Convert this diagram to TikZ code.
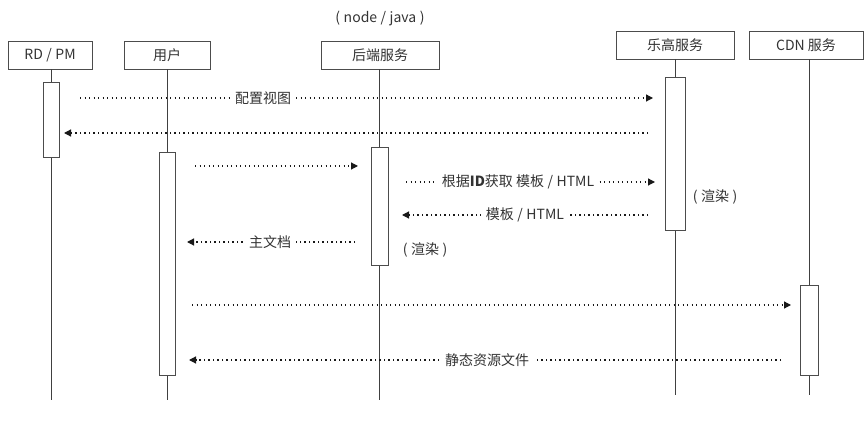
\documentclass[tikz,border=0pt]{standalone}
\usepackage{fontspec}
\setmainfont{Noto Sans CJK SC}
\usetikzlibrary{arrows.meta}
\newcommand{\gap}{\hspace{0.25em}}
\begin{document}
\begin{tikzpicture}[x=1pt,y=-1pt,
  actor/.style={draw=black!70, line width=0.8pt, minimum height=28pt, inner sep=0pt,
    font=\fontsize{14}{16}\selectfont, text=black!80},
  life/.style={draw=black!75, line width=0.7pt},
  actbox/.style={draw=black!70, fill=white, line width=0.8pt, inner sep=0pt},
  msg/.style={black!90, line width=1.2pt, dash pattern=on 1.2pt off 3.3pt,
    -{Triangle[length=7pt,width=7pt]}},
  lbl/.style={fill=white, inner sep=5pt, font=\fontsize{14}{16}\selectfont, text=black!80},
  note/.style={inner sep=0pt, font=\fontsize{14}{16}\selectfont, text=black!80}
]
\useasboundingbox (0,0) rectangle (864,430);

% participants
\node[actor, minimum width=84pt]  (rd)   at (50,55)  {RD\gap/\gap PM};
\node[actor, minimum width=86pt]  (user) at (167,55) {用户};
\node[actor, minimum width=118pt] (back) at (380,55) {后端服务};
\node[actor, minimum width=118pt] (lego) at (675,45) {乐高服务};
\node[actor, minimum width=114pt] (cdn)  at (806,45) {CDN 服务};
\node[note] (backnote) at (380,18) {(\gap node\gap/\gap java\gap)};

% lifelines
\coordinate (rdend)   at (51,400);
\coordinate (userend) at (167,400);
\coordinate (backend) at (379,400);
\coordinate (legoend) at (675,395);
\coordinate (cdnend)  at (809,395);
\draw[life] (rd.south -| rdend) -- (rdend);
\draw[life] (user.south -| userend) -- (userend);
\draw[life] (back.south -| backend) -- (backend);
\draw[life] (lego.south -| legoend) -- (legoend);
\draw[life] (cdn.south -| cdnend) -- (cdnend);

% activation bars
\node[actbox, minimum width=16pt, minimum height=75pt]  (ard)   at (51,119.5)  {};
\node[actbox, minimum width=16pt, minimum height=223pt] (auser) at (167,263.5) {};
\node[actbox, minimum width=17pt, minimum height=118pt] (aback) at (379.5,206) {};
\node[actbox, minimum width=20pt, minimum height=153pt] (alego) at (675.5,153.5) {};
\node[actbox, minimum width=18pt, minimum height=90pt]  (acdn)  at (809,330)   {};

% message end points
\coordinate (m1a) at (80,98);   \coordinate (m1b) at (653,98);
\coordinate (m2a) at (648,133); \coordinate (m2b) at (64,133);
\coordinate (m3a) at (195,166); \coordinate (m3b) at (358,166);
\coordinate (m4a) at (406,182); \coordinate (m4b) at (655,182);
\coordinate (m5a) at (648,215); \coordinate (m5b) at (402,215);
\coordinate (m6a) at (355,242); \coordinate (m6b) at (187,242);
\coordinate (m7a) at (192,305); \coordinate (m7b) at (791,305);
\coordinate (m8a) at (781,360); \coordinate (m8b) at (189,360);

% messages
\draw[msg] (m1a) -- (m1b);
\node[lbl] (l1) at (263,98) {配置视图};
\draw[msg] (m2a) -- (m2b);
\draw[msg] (m3a) -- (m3b);
\draw[msg] (m4a) -- (m4b);
\node[lbl] (l4) at (518,182) {根据\textbf{ID}获取 模板\gap/\gap HTML};
\draw[msg] (m5a) -- (m5b);
\node[lbl] (l5) at (525,215) {模板\gap/\gap HTML};
\draw[msg] (m6a) -- (m6b);
\node[lbl] (l6) at (270,242) {主文档};
\draw[msg] (m7a) -- (m7b);
\draw[msg] (m8a) -- (m8b);
\node[lbl] (l8) at (487,360) {静态资源文件};

% processing notes
\node[note] (r1) at (715,197) {(\gap 渲染\gap)};
\node[note] (r2) at (425,250) {(\gap 渲染\gap)};
\end{tikzpicture}
\end{document}
